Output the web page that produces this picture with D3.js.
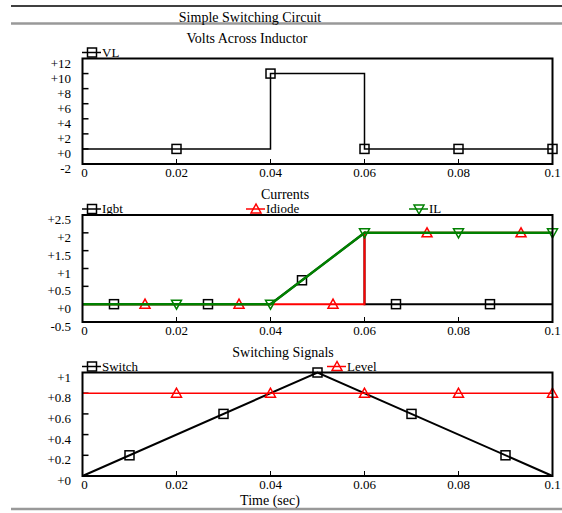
<!DOCTYPE html>
<html>
<head>
<meta charset="utf-8">
<script src="https://cdn.jsdelivr.net/npm/d3@7"></script>
<style>
  body { margin: 0; background: #fff; }
  text { font-family: "Liberation Serif", "Times New Roman", serif; fill: #000; }
</style>
</head>
<body>
<svg id="chart" width="562" height="513"></svg>
<script>
// x domain shared by all three panels
const timeTicks = [0, 0.02, 0.04, 0.06, 0.08, 0.1];

// Volts Across Inductor
const vlT = [0, 0.04, 0.04, 0.06, 0.06, 0.1];
const vlV = [0, 0, 10, 10, 0, 0];
const vlMarkT = [0.02, 0.04, 0.06, 0.08, 0.1];
const vlMarkV = [0, 10, 0, 0, 0];
const vlTicks = [-2, 0, 2, 4, 6, 8, 10, 12];

// Currents
const igbtT = [0, 0.04, 0.06, 0.06, 0.1];
const igbtV = [0, 0, 2, 0, 0];
const igbtMarkT = [0.0067, 0.0267, 0.0467, 0.0667, 0.0867];
const igbtMarkV = [0, 0, 0.67, 0, 0];
const idiodeT = [0, 0.06, 0.06, 0.1];
const idiodeV = [0, 0, 2, 2];
const idiodeMarkT = [0.0133, 0.0333, 0.0533, 0.0733, 0.0933];
const idiodeMarkV = [0, 0, 0, 2, 2];
const ilT = [0, 0.04, 0.06, 0.1];
const ilV = [0, 0, 2, 2];
const ilMarkT = [0.02, 0.04, 0.06, 0.08, 0.1];
const ilMarkV = [0, 0, 2, 2, 2];
const curTicks = [-0.5, 0, 0.5, 1, 1.5, 2, 2.5];

// Switching Signals
const switchT = [0, 0.05, 0.1];
const switchV = [0, 1, 0];
const switchMarkT = [0.01, 0.03, 0.05, 0.07, 0.09];
const switchMarkV = [0.2, 0.6, 1, 0.6, 0.2];
const levelT = [0, 0.1];
const levelV = [0.8, 0.8];
const levelMarkT = [0.02, 0.04, 0.06, 0.08, 0.1];
const levelMarkV = [0.8, 0.8, 0.8, 0.8, 0.8];
const sigTicks = [0, 0.2, 0.4, 0.6, 0.8, 1];

const svg = d3.select("#chart");
const x = d3.scaleLinear().domain([0, 0.1]).range([82.5, 552.5]);
const fmtY = d => (d >= 0 ? "+" : "") + d;

// page rules and titles
svg.append("line").attr("x1", 11).attr("x2", 562).attr("y1", 6).attr("y2", 6)
    .attr("stroke", "#000").attr("stroke-width", 1.5);
svg.append("line").attr("x1", 11).attr("x2", 562).attr("y1", 23.5).attr("y2", 23.5)
    .attr("stroke", "#999").attr("stroke-width", 2.5);
svg.append("line").attr("x1", 11).attr("x2", 562).attr("y1", 509).attr("y2", 509)
    .attr("stroke", "#999").attr("stroke-width", 2.5);
svg.append("text").attr("x", 250).attr("y", 22).attr("text-anchor", "middle")
    .style("font-size", "14px").text("Simple Switching Circuit");
svg.append("text").attr("x", 270).attr("y", 505).attr("text-anchor", "middle")
    .style("font-size", "14px").text("Time (sec)");

function marker(g, type, cx, cy, color) {
    if (type === "square") {
        g.append("rect").attr("x", cx - 4.5).attr("y", cy - 4.5)
            .attr("width", 9).attr("height", 9)
            .attr("fill", "none").attr("stroke", color).attr("stroke-width", 1.5);
    } else {
        let s = type === "up" ? -1 : 1;
        let pts = [[cx, cy + s * 5], [cx - 5, cy - s * 4], [cx + 5, cy - s * 4]];
        g.append("path").attr("d", d3.line()(pts) + "Z")
            .attr("fill", "none").attr("stroke", color).attr("stroke-width", 1.5);
    }
}

function drawPanel(p) {
    let y = d3.scaleLinear().domain(p.domain).range([p.bottom, p.top]);
    let g = svg.append("g");

    g.append("text").attr("x", p.titleX).attr("y", p.top - 16)
        .attr("text-anchor", "middle").style("font-size", "14px").text(p.title);

    // y axis ticks (inward) and labels
    g.selectAll(".ytick").data(p.ticks.slice(1, -1)).enter().append("line")
        .attr("x1", x(0)).attr("x2", x(0) + 6)
        .attr("y1", d => y(d)).attr("y2", d => y(d))
        .attr("stroke", "#000").attr("stroke-width", 1.5);
    g.selectAll(".ylab").data(p.ticks).enter().append("text")
        .attr("x", 71).attr("y", d => y(d) + 9)
        .attr("text-anchor", "end").style("font-size", "13px").text(fmtY);

    // x axis ticks and labels
    g.selectAll(".xtick").data(timeTicks.slice(1, -1)).enter().append("line")
        .attr("x1", d => x(d)).attr("x2", d => x(d))
        .attr("y1", p.bottom).attr("y2", p.bottom - 5)
        .attr("stroke", "#000").attr("stroke-width", 1);
    g.selectAll(".xlab").data(timeTicks).enter().append("text")
        .attr("x", d => x(d) + (d === 0 ? 2 : 0)).attr("y", p.bottom + 13)
        .attr("text-anchor", "middle").style("font-size", "13px").text(d => d);

    // series
    let line = d3.line().x(d => x(d[0])).y(d => y(d[1]));
    p.series.forEach(s => {
        g.append("path").datum(d3.zip(s.t, s.v)).attr("d", line)
            .attr("fill", "none").attr("stroke", s.color).attr("stroke-width", s.width);
        d3.zip(s.mt, s.mv).forEach(m => marker(g, s.mark, x(m[0]), y(m[1]), s.color));
        // legend
        let ly = p.top - 6;
        g.append("line").attr("x1", s.lx).attr("x2", s.lx + 19).attr("y1", ly).attr("y2", ly)
            .attr("stroke", s.color).attr("stroke-width", 1.5);
        marker(g, s.mark, s.lx + 10, ly, s.color);
        g.append("text").attr("x", s.lx + 20).attr("y", ly + 4)
            .style("font-size", "13px").text(s.name);
    });

    // frame
    g.append("rect").attr("x", x(0)).attr("y", p.top)
        .attr("width", x(0.1) - x(0)).attr("height", p.bottom - p.top)
        .attr("fill", "none").attr("stroke", "#000").attr("stroke-width", 2);
}

drawPanel({
    title: "Volts Across Inductor", titleX: 247, top: 58.5, bottom: 164, domain: [-2, 12], ticks: vlTicks,
    series: [
        {name: "VL", t: vlT, v: vlV, mt: vlMarkT, mv: vlMarkV, color: "#000", width: 1.5, mark: "square", lx: 82}
    ]
});

drawPanel({
    title: "Currents", titleX: 285, top: 215, bottom: 322, domain: [-0.5, 2.5], ticks: curTicks,
    series: [
        {name: "Igbt", t: igbtT, v: igbtV, mt: igbtMarkT, mv: igbtMarkV, color: "#000", width: 2, mark: "square", lx: 82},
        {name: "Idiode", t: idiodeT, v: idiodeV, mt: idiodeMarkT, mv: idiodeMarkV, color: "#f00", width: 2, mark: "up", lx: 246},
        {name: "IL", t: ilT, v: ilV, mt: ilMarkT, mv: ilMarkV, color: "#008000", width: 2.5, mark: "down", lx: 409}
    ]
});

drawPanel({
    title: "Switching Signals", titleX: 283, top: 372.5, bottom: 476, domain: [0, 1], ticks: sigTicks,
    series: [
        {name: "Switch", t: switchT, v: switchV, mt: switchMarkT, mv: switchMarkV, color: "#000", width: 2, mark: "square", lx: 82},
        {name: "Level", t: levelT, v: levelV, mt: levelMarkT, mv: levelMarkV, color: "#f00", width: 1.5, mark: "up", lx: 327}
    ]
});
</script>
</body>
</html>
